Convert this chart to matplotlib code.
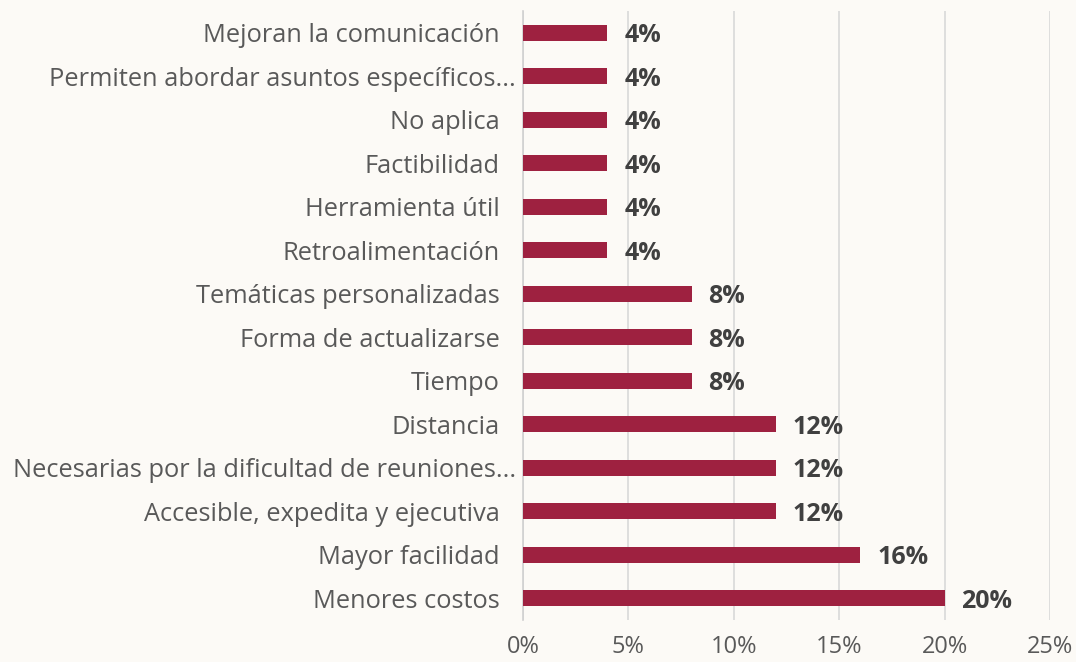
import matplotlib.pyplot as plt
import matplotlib.transforms as mtransforms
from matplotlib.ticker import PercentFormatter

# DATOS
categorias = [
    "Menores costos",
    "Mayor facilidad",
    "Accesible, expedita y ejecutiva",
    "Necesarias por la dificultad de reuniones...",
    "Distancia",
    "Tiempo",
    "Forma de actualizarse",
    "Temáticas personalizadas",
    "Retroalimentación",
    "Herramienta útil",
    "Factibilidad",
    "No aplica",
    "Permiten abordar asuntos específicos...",
    "Mejoran la comunicación",
]
valores = [20, 16, 12, 12, 12, 8, 8, 8, 4, 4, 4, 4, 4, 4]
ticks_x = [0, 5, 10, 15, 20, 25]

color_barra = "#9e2140"
color_texto = "#595959"
color_etiqueta = "#404040"

plt.rcParams['font.family'] = ['Open Sans', 'DejaVu Sans']

fig = plt.figure(figsize=(10.76, 6.62), dpi=100)
fig.patch.set_facecolor("#fcfaf6")
ax = fig.add_axes([523 / 1076, 42 / 662, 527 / 1076, 609 / 662])
ax.set_facecolor("none")

y = list(range(len(categorias)))
ax.barh(y, valores, height=0.37, color=color_barra, zorder=3)

for yi, v in zip(y, valores):
    ax.text(v + 0.8, yi, f"{v}%", va="center_baseline", ha="left", fontsize=18,
            fontweight="bold", color=color_etiqueta)

ax.set_xlim(0, 25)
ax.set_ylim(-0.5, len(categorias) - 0.5)
ax.set_xticks(ticks_x)
ax.xaxis.set_major_formatter(PercentFormatter(decimals=0))
ax.set_yticks(y)
ax.set_yticklabels(categorias)

ax.grid(axis="x", color="#d9d9d9", linewidth=1.2, zorder=0)
for s in ["top", "right", "bottom"]:
    ax.spines[s].set_visible(False)
ax.spines["left"].set_color("#d0d0d0")
ax.spines["left"].set_linewidth(1.2)

ax.tick_params(axis="y", length=0, pad=17, labelsize=18.3, labelcolor=color_texto)
ax.tick_params(axis="x", length=0, pad=11, labelsize=17, labelcolor=color_texto)

# las etiquetas truncadas con "..." quedan más a la derecha en el original
desplazamiento = mtransforms.ScaledTranslation(12 / 72, 0, fig.dpi_scale_trans)
for lab in ax.get_yticklabels():
    if lab.get_text().endswith("..."):
        lab.set_transform(lab.get_transform() + desplazamiento)

fig.savefig("out.png", dpi=100, facecolor=fig.get_facecolor())
